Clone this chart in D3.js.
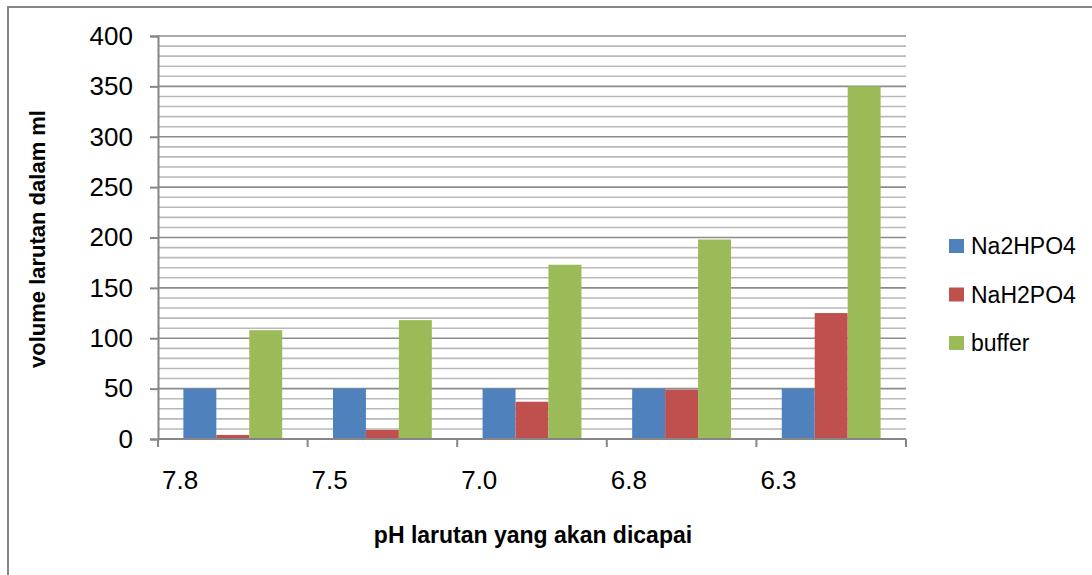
<!DOCTYPE html>
<html>
<head>
<meta charset="utf-8">
<script src="https://cdn.jsdelivr.net/npm/d3@7"></script>
<style>
body{margin:0;background:#fff;}
text{font-family:"Liberation Sans",Arial,sans-serif;fill:#000;}
</style>
</head>
<body>
<svg></svg>
<script>
// data
var categories = ["7.8","7.5","7.0","6.8","6.3"];
var seriesNames = ["Na2HPO4","NaH2PO4","buffer"];
var na2hpo4 = [50,50,50,50,50];
var nah2po4 = [4,9,37,49,125];
var buffer = [108,118,173,198,350];
var yTicks = [0,50,100,150,200,250,300,350,400];
var colors = ["#4f81bd","#c0504d","#9bbb59"];

var screen = {width:1092,height:575}
var margins = {left:158,right:186,top:36,bottom:136}
var graph = {
    width:screen.width-margins.left-margins.right,
    height:screen.height-margins.top-margins.bottom
}

var rows = categories.map(function(c,i){
    return {cat:c,values:[na2hpo4[i],nah2po4[i],buffer[i]]}
})

var svg = d3.select("svg")
    .attr("width",screen.width)
    .attr("height",screen.height)

// chart frame
svg.append("rect")
    .attr("x",8).attr("y",7)
    .attr("width",1100).attr("height",600)
    .attr("fill","#fff")
    .attr("stroke","#868686")
    .attr("stroke-width",2)

var target = svg.append("g")
    .attr("transform","translate("+margins.left+","+margins.top+")")

var xScale = d3.scaleBand()
    .domain(categories)
    .range([0,graph.width])

var x1 = d3.scaleBand()
    .domain(seriesNames)
    .range([0,xScale.bandwidth()])
    .paddingOuter(0.77)

var yScale = d3.scaleLinear()
    .domain([0,400])
    .range([graph.height,0])

// minor gridlines every 10
target.append("g").selectAll("line")
    .data(d3.range(10,401,10).filter(function(v){return v%50!=0}))
    .enter().append("line")
    .attr("x1",0).attr("x2",graph.width)
    .attr("y1",function(d){return yScale(d)})
    .attr("y2",function(d){return yScale(d)})
    .attr("stroke","#b9b9b9")
    .attr("stroke-width",1.6)

// major gridlines
target.append("g").selectAll("line")
    .data(yTicks.slice(1))
    .enter().append("line")
    .attr("x1",0).attr("x2",graph.width)
    .attr("y1",function(d){return yScale(d)})
    .attr("y2",function(d){return yScale(d)})
    .attr("stroke","#8c8c8c")
    .attr("stroke-width",1.6)

// bars
var groups = target.selectAll("g.grp")
    .data(rows)
    .enter().append("g")
    .attr("class","grp")
    .attr("transform",function(d){return "translate("+xScale(d.cat)+",0)"})

groups.selectAll("rect")
    .data(function(d){return d.values.map(function(v,i){return {name:seriesNames[i],value:v,i:i}})})
    .enter().append("rect")
    .attr("x",function(d){return x1(d.name)})
    .attr("width",x1.bandwidth())
    .attr("y",function(d){return yScale(d.value)})
    .attr("height",function(d){return graph.height-yScale(d.value)})
    .attr("fill",function(d){return colors[d.i]})

// y axis
var yAxis = d3.axisLeft(yScale).tickValues(yTicks).tickSize(8).tickPadding(17)
var ya = target.append("g").call(yAxis)
ya.select(".domain").attr("stroke","#868686").attr("stroke-width",2)
ya.selectAll(".tick line").attr("stroke","#868686").attr("stroke-width",2)
ya.selectAll(".tick text").attr("font-size","26px")
    .attr("font-family","Liberation Sans").attr("fill","#000")

// x axis
var xa = target.append("g").attr("transform","translate(0,"+graph.height+")")
xa.append("line").attr("x1",0).attr("x2",graph.width)
    .attr("stroke","#868686").attr("stroke-width",2)
xa.selectAll("line.tk")
    .data(categories.concat(["end"]))
    .enter().append("line")
    .attr("class","tk")
    .attr("x1",function(d,i){return i<categories.length?xScale(d):graph.width})
    .attr("x2",function(d,i){return i<categories.length?xScale(d):graph.width})
    .attr("y1",0).attr("y2",8)
    .attr("stroke","#868686").attr("stroke-width",2)
xa.selectAll("text")
    .data(categories)
    .enter().append("text")
    .attr("x",function(d){return xScale(d)+4})
    .attr("y",50)
    .attr("font-size","26px")
    .text(function(d){return d})

// axis titles
svg.append("text")
    .attr("transform","translate(45,239) rotate(-90)")
    .attr("text-anchor","middle")
    .attr("font-weight","bold")
    .attr("font-size","22px")
    .text("volume larutan dalam ml")

svg.append("text")
    .attr("x",533).attr("y",543)
    .attr("text-anchor","middle")
    .attr("font-weight","bold")
    .attr("font-size","23px")
    .text("pH larutan yang akan dicapai")

// legend
var legend = svg.append("g").attr("transform","translate(949,239)")
var items = legend.selectAll("g")
    .data(seriesNames)
    .enter().append("g")
    .attr("transform",function(d,i){return "translate(0,"+(i*48.5)+")"})
items.append("rect").attr("width",15).attr("height",14)
    .attr("fill",function(d,i){return colors[i]})
items.append("text").attr("x",22).attr("y",15)
    .attr("font-size","23px")
    .text(function(d){return d})
</script>
</body>
</html>
